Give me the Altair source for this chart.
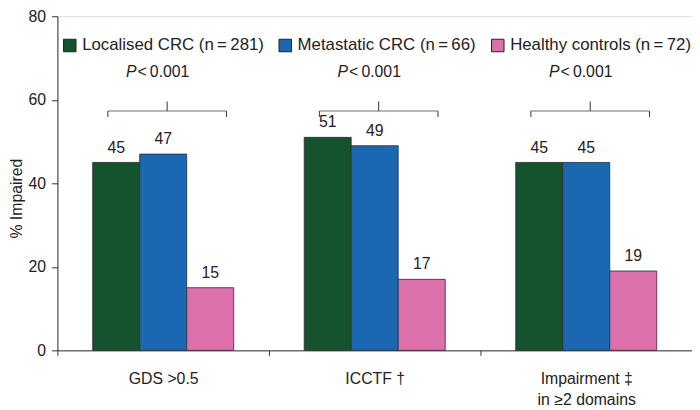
import altair as alt
import pandas as pd

categories = ["GDS >0.5", "ICCTF \u2020", "Impairment \u2021|in \u22652 domains"]
groups = [
    "Localised CRC (n\u2009=\u2009281)",
    "Metastatic CRC (n\u2009=\u200966)",
    "Healthy controls (n\u2009=\u200972)",
]
localised = [45, 51, 45]
metastatic = [47, 49, 45]
healthy = [15, 17, 19]
p_values = ["<\u20090.001", "<\u20090.001", "<\u20090.001"]
colors = ["#14532e", "#1b67b1", "#db70aa"]

FONT = "Liberation Sans"

rows = []
for series, name in zip([localised, metastatic, healthy], groups):
    for cat, v in zip(categories, series):
        rows.append({"category": cat, "group": name, "value": v})
bars_df = pd.DataFrame(rows)

ann_df = pd.DataFrame({
    "category": categories,
    "p": p_values,
    "py": [66.7] * 3,
    "by": [57.3] * 3,
    "bey": [55.9] * 3,
    "bty": [59.6] * 3,
})

x_enc = alt.X(
    "category:N",
    sort=categories,
    scale=alt.Scale(paddingInner=0, paddingOuter=0),
    axis=alt.Axis(
        title=None, labelAngle=0, tickBand="extent",
        labelExpr="split(datum.label, '|')",
        labelFontSize=16, labelPadding=16, labelLineHeight=21,
        tickSize=5, domainColor="#333", tickColor="#333",
        labelColor="#222", labelFont=FONT,
    ),
)
y_scale = alt.Scale(domain=[0, 80])
y_axis = alt.Axis(
    title="% Impaired", values=[0, 20, 40, 60, 80], grid=False,
    tickSize=6, labelPadding=6, labelFontSize=16, labelColor="#222",
    titleFontSize=16, titleFontWeight="normal", titleColor="#222",
    titleX=-36, titleY=184, titleAngle=-90, titleBaseline="alphabetic",
    titleAlign="center", domainColor="#333", tickColor="#333",
    labelFont=FONT, titleFont=FONT,
)
xoff = alt.XOffset(
    "group:N", sort=groups,
    scale=alt.Scale(domain=groups, paddingInner=0, paddingOuter=0.75),
)

bars = alt.Chart(bars_df).mark_bar(stroke="#2b2b2b", strokeWidth=0.8).encode(
    x=x_enc,
    xOffset=xoff,
    y=alt.Y("value:Q", scale=y_scale, axis=y_axis),
    color=alt.Color(
        "group:N",
        scale=alt.Scale(domain=groups, range=colors),
        legend=alt.Legend(
            orient="none", legendX=4, legendY=21, direction="horizontal",
            title=None, symbolType="square", symbolSize=160,
            symbolStrokeColor="#222", symbolStrokeWidth=1,
            labelFontSize=17, labelOffset=4, columnPadding=13, padding=0,
            labelColor="#222", labelFont=FONT, symbolOpacity=1, labelLimit=0,
        ),
    ),
)

values = alt.Chart(bars_df).mark_text(
    dy=-10, baseline="alphabetic", fontSize=16, color="#222", font=FONT
).encode(x=x_enc, xOffset=xoff, y=alt.Y("value:Q", scale=y_scale), text="value:Q")

bracket_h = alt.Chart(ann_df).mark_tick(
    orient="horizontal", size=120, thickness=1, color="#333", xOffset=4
).encode(x=x_enc, y=alt.Y("by:Q", scale=y_scale))
bracket_l = alt.Chart(ann_df).mark_rule(color="#333", strokeWidth=1, xOffset=-56).encode(
    x=x_enc, y=alt.Y("by:Q", scale=y_scale), y2="bey:Q")
bracket_r = alt.Chart(ann_df).mark_rule(color="#333", strokeWidth=1, xOffset=64).encode(
    x=x_enc, y=alt.Y("by:Q", scale=y_scale), y2="bey:Q")
bracket_c = alt.Chart(ann_df).mark_rule(color="#333", strokeWidth=1, xOffset=4).encode(
    x=x_enc, y=alt.Y("by:Q", scale=y_scale), y2="bty:Q")

p_italic = alt.Chart(ann_df).mark_text(
    fontStyle="italic", align="right", baseline="middle", dx=-27,
    fontSize=16, color="#222", font=FONT,
).encode(x=x_enc, y=alt.Y("py:Q", scale=y_scale), text=alt.value("P"))
p_rest = alt.Chart(ann_df).mark_text(
    align="left", baseline="middle", dx=-26, fontSize=16, color="#222", font=FONT,
).encode(x=x_enc, y=alt.Y("py:Q", scale=y_scale), text="p:N")

chart = alt.layer(
    bars, values, bracket_h, bracket_l, bracket_r, bracket_c, p_italic, p_rest
).properties(
    width=642, height=338,
    autosize=alt.AutoSizeParams(type="none"),
    padding={"left": 50, "top": 6, "right": 0, "bottom": 60},
).configure_view(stroke=None).configure(font=FONT)

chart.save("out.html", embed_options={"renderer": "svg", "actions": False})
